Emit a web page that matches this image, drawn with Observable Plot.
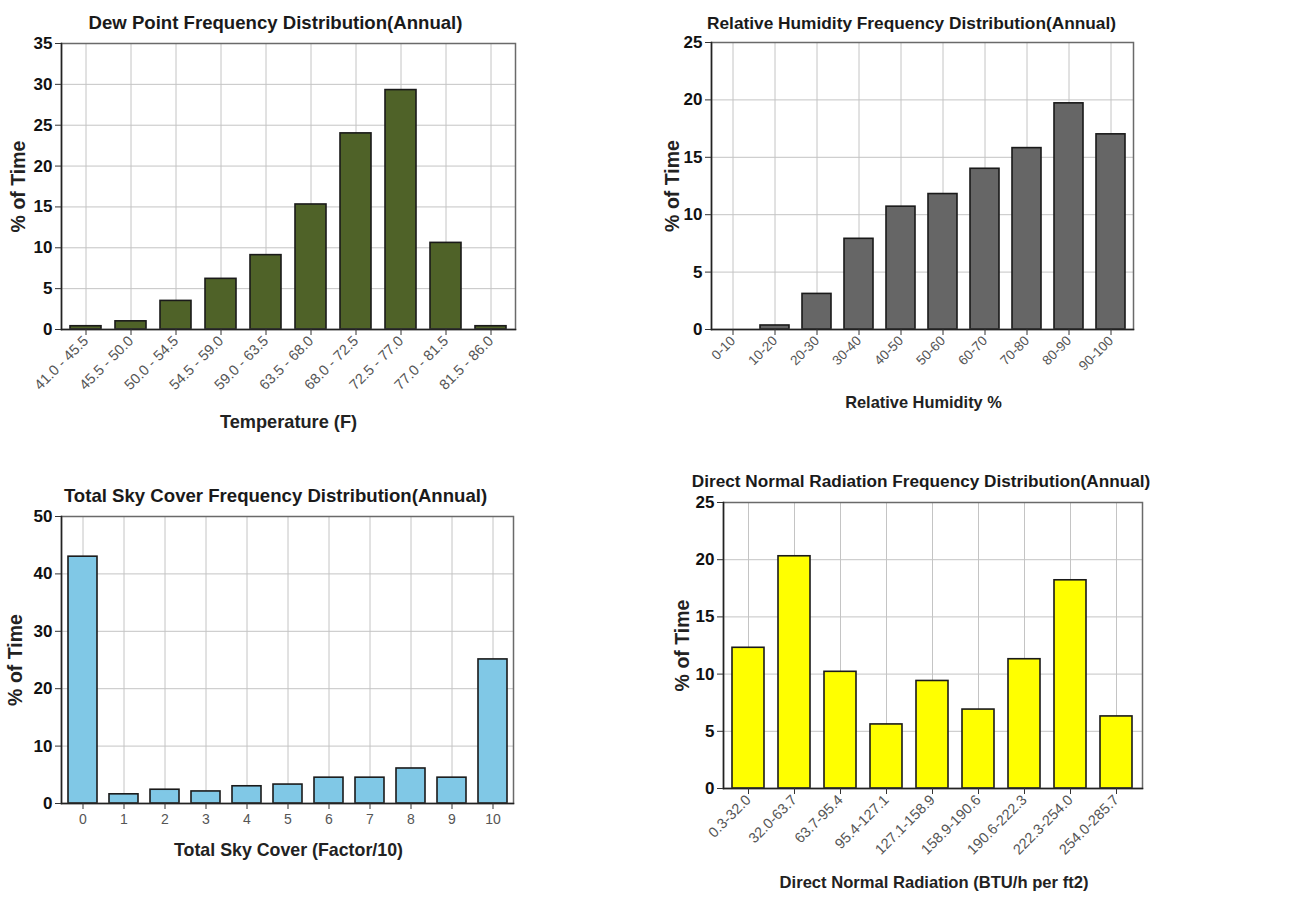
<!DOCTYPE html>
<html><head><meta charset="utf-8">
<script src="https://cdn.jsdelivr.net/npm/d3@7"></script>
<script src="https://cdn.jsdelivr.net/npm/@observablehq/plot@0.6"></script>
<style>
body{margin:0;background:#fff;width:1315px;height:902px;position:relative;overflow:hidden;font-family:"Liberation Sans",Arial,sans-serif;}
.panel{position:absolute;}
</style></head><body>
<div id="c1" class="panel" style="left:0;top:0"></div>
<div id="c2" class="panel" style="left:640px;top:0"></div>
<div id="c3" class="panel" style="left:0;top:460px"></div>
<div id="c4" class="panel" style="left:640px;top:460px"></div>
<script>
// ---- Data ----
const dewCategories = ["41.0 - 45.5","45.5 - 50.0","50.0 - 54.5","54.5 - 59.0","59.0 - 63.5","63.5 - 68.0","68.0 - 72.5","72.5 - 77.0","77.0 - 81.5","81.5 - 86.0"];
const dewValues = [0.4, 1.0, 3.5, 6.2, 9.1, 15.3, 24.0, 29.3, 10.6, 0.4];
const dewTicks = [0, 5, 10, 15, 20, 25, 30, 35];

const rhCategories = ["0-10","10-20","20-30","30-40","40-50","50-60","60-70","70-80","80-90","90-100"];
const rhValues = [0, 0.35, 3.1, 7.9, 10.7, 11.8, 14.0, 15.8, 19.7, 17.0];
const rhTicks = [0, 5, 10, 15, 20, 25];

const skyCategories = ["0","1","2","3","4","5","6","7","8","9","10"];
const skyValues = [43.0, 1.6, 2.4, 2.1, 3.0, 3.3, 4.5, 4.5, 6.1, 4.5, 25.1];
const skyTicks = [0, 10, 20, 30, 40, 50];

const dnrCategories = ["0.3-32.0","32.0-63.7","63.7-95.4","95.4-127.1","127.1-158.9","158.9-190.6","190.6-222.3","222.3-254.0","254.0-285.7"];
const dnrValues = [12.3, 20.3, 10.2, 5.6, 9.4, 6.9, 11.3, 18.2, 6.3];
const dnrTicks = [0, 5, 10, 15, 20, 25];

const FONT = '"Liberation Sans", Arial, sans-serif';

function chart(o) {
  const data = o.cats.map((c, i) => ({cat: c, val: o.vals[i]}));
  return Plot.plot({
    width: o.width, height: o.height,
    marginLeft: o.ml, marginRight: o.mr, marginTop: o.mt, marginBottom: o.mb,
    style: {fontFamily: FONT, background: "#fff", color: "#111"},
    x: {type: "band", domain: o.cats, paddingInner: 0.3, paddingOuter: 0.15},
    y: {domain: [0, o.ticks[o.ticks.length - 1]]},
    marks: [
      Plot.gridY(o.ticks, {stroke: "#c4c4c4", strokeOpacity: 1}),
      Plot.gridX({stroke: "#c4c4c4", strokeOpacity: 1}),
      Plot.barY(data.filter(d => d.val > 0), {x: "cat", y: "val", fill: o.color, stroke: "#1a1a1a", strokeWidth: 1.6}),
      Plot.frame({stroke: "#6a6a6a", strokeWidth: 1.5}),
      Plot.frame({anchor: "left", stroke: "#222", strokeWidth: 1.5}),
      Plot.frame({anchor: "bottom", stroke: "#222", strokeWidth: 1.5}),
      Plot.axisY({ticks: o.ticks, label: null, fontSize: 17, fontWeight: "bold", tickSize: 6, tickPadding: 3, stroke: "#333"}),
      o.rotate
        ? Plot.axisX({label: null, tickRotate: -45, fontSize: o.tickFs, fill: "#555", tickSize: 6, tickPadding: 3, stroke: "#333"})
        : Plot.axisX({label: null, fontSize: o.tickFs, fill: "#555", tickSize: 6, tickPadding: 5, stroke: "#333"}),
      Plot.text([o.title], {text: d => d, frameAnchor: "top", lineAnchor: "middle", textAnchor: "middle", dx: o.tdx, dy: o.tdy, fontSize: o.titleFs, fontWeight: "bold", fill: "#1a1a1a"}),
      Plot.text([o.xLabel], {text: d => d, frameAnchor: "bottom", lineAnchor: "middle", textAnchor: "middle", dx: o.xdx, dy: o.xdy, fontSize: o.xFs, fontWeight: "bold", fill: "#222"}),
      Plot.text(["% of Time"], {text: d => d, frameAnchor: "left", lineAnchor: "middle", textAnchor: "middle", rotate: -90, dx: o.ydx, dy: 0, fontSize: 19.5, fontWeight: "bold", fill: "#222"})
    ]
  });
}

document.getElementById("c1").append(chart({
  cats: dewCategories, vals: dewValues, ticks: dewTicks, color: "#4f6228",
  title: "Dew Point Frequency Distribution(Annual)", xLabel: "Temperature (F)",
  width: 620, height: 450, ml: 61, mr: 105, mt: 43, mb: 121, rotate: true,
  titleFs: 18.6, xFs: 18.2, tickFs: 14.5,
  tdx: -13, tdy: -20, xdx: 0, xdy: 93, ydx: -43
}));
document.getElementById("c2").append(chart({
  cats: rhCategories, vals: rhValues, ticks: rhTicks, color: "#666666",
  title: "Relative Humidity Frequency Distribution(Annual)", xLabel: "Relative Humidity %",
  width: 675, height: 450, ml: 71, mr: 182, mt: 42, mb: 121, rotate: true,
  titleFs: 17.3, xFs: 16.4, tickFs: 13.5,
  tdx: -11, tdy: -19, xdx: 1, xdy: 73, ydx: -39
}));
document.getElementById("c3").append(chart({
  cats: skyCategories, vals: skyValues, ticks: skyTicks, color: "#80c8e6",
  title: "Total Sky Cover Frequency Distribution(Annual)", xLabel: "Total Sky Cover (Factor/10)",
  width: 620, height: 442, ml: 61, mr: 107, mt: 56, mb: 99, rotate: false,
  titleFs: 18.6, xFs: 17.8, tickFs: 14,
  tdx: -12, tdy: -20, xdx: 1, xdy: 47, ydx: -46
}));
document.getElementById("c4").append(chart({
  cats: dnrCategories, vals: dnrValues, ticks: dnrTicks, color: "#ffff00",
  title: "Direct Normal Radiation Frequency Distribution(Annual)", xLabel: "Direct Normal Radiation (BTU/h per ft2)",
  width: 675, height: 442, ml: 83, mr: 173, mt: 42, mb: 114, rotate: true,
  titleFs: 17.2, xFs: 16.6, tickFs: 14.5,
  tdx: -12, tdy: -21, xdx: 1, xdy: 94, ydx: -41
}));
</script>
</body></html>
